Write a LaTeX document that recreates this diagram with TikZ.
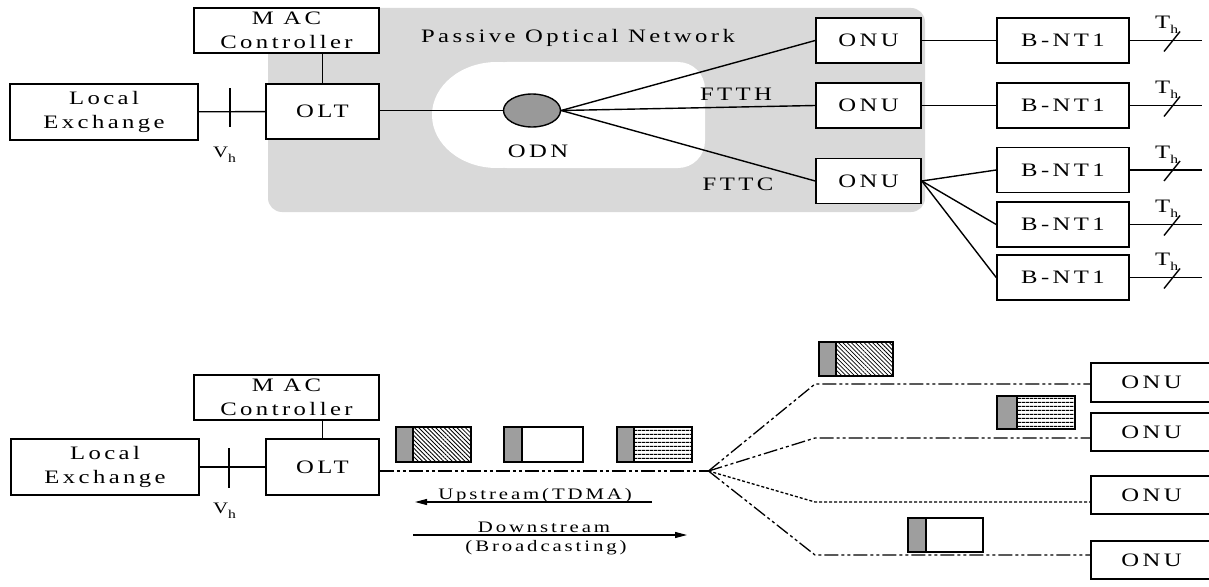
\documentclass[tikz,border=0pt]{standalone}
\usepackage{fontspec}
\setmainfont{Liberation Serif}
\newfontfamily\ponfont[FakeStretch=1.3,LetterSpace=18]{Liberation Serif}
\usetikzlibrary{shapes.geometric,arrows.meta,patterns.meta}

\newcommand\bigtxt{\ponfont\fontsize{19}{23.5}\selectfont}
\newcommand\midtxt{\ponfont\fontsize{16}{19}\selectfont}
\newcommand\subtxt{\ponfont\fontsize{12}{12}\selectfont}

% a frame: stippled header, body, outline
\newcommand\pkt[6]{%
  \fill[black!38] (#1,#4) rectangle (#2,#5);
  \path[#6] (#2,#4) rectangle (#3,#5);
  \draw[pktline] (#1,#4) rectangle (#3,#5) (#2,#4) -- (#2,#5);
}

\begin{document}
\begin{tikzpicture}[x=1pt,y=-1pt,
  box/.style={draw,line width=1.6pt,fill=white,inner sep=0pt,align=center,font=\bigtxt},
  wire/.style={line width=1.4pt},
  fibre/.style={line width=1.3pt,dash pattern=on 14pt off 3pt on 3pt off 3pt on 3pt off 3pt},
  dotfibre/.style={line width=1.3pt,dash pattern=on 3pt off 2pt},
  pktline/.style={line width=1.5pt},
  hatch/.style={pattern={Lines[angle=-45,distance=3pt,line width=0.8pt]}},
  hlines/.style={pattern={Lines[angle=0,distance=4pt,line width=1.2pt]}},
  txt/.style={font=\bigtxt,inner sep=0pt},
  small/.style={font=\midtxt,inner sep=0pt},
  flow/.style={line width=1.2pt,-{Triangle[length=12pt,width=6pt]}},
]
\useasboundingbox (0,0) rectangle (1209,586);
\clip (0,0) rectangle (1209,586);

% ---------- upper part: PON architecture ----------
\fill[black!15, rounded corners=14pt] (268,8) rectangle (925,212);
\fill[white] (497,115) ellipse [x radius=65, y radius=53];
\fill[white, rounded corners=27pt] (480,62) rectangle (705,168);

\node[txt,anchor=base] (pon) at (578,43) {Passive Optical Network};

\node[box,minimum width=185,minimum height=45] (mac1) at (286.5,30.5) {M AC\\Controller};
\node[box,minimum width=188,minimum height=56] (le1) at (104,112) {Local\\Exchange};
\node[box,minimum width=113,minimum height=55] (olt1) at (322.5,111.5) {OLT};
\node[draw,ellipse,fill=black!40,line width=1.4pt,minimum width=57,minimum height=33,inner sep=0pt] (odn) at (532,110.5) {};
\node[txt,anchor=base] (odnlab) at (538,157) {ODN};

\draw[wire] (le1) -- (olt1);
\draw[wire] (230,88) -- (230,127);
\node[anchor=base west,inner sep=0pt,font=\midtxt] (vb1) at (213,157) {V\raisebox{-5pt}{\subtxt h}};
\draw[wire] (olt1.north) -- (olt1.north |- mac1.south);
\draw[wire] (odn.west) -- (odn.west -| olt1.east);

\foreach \k/\y in {1/40.5,2/105.5,3/181}
  \node[box,minimum width=105,minimum height=45] (onu\k) at (868.5,\y) {ONU};
\node[txt,anchor=base] (ftth) at (736,100) {FTTH};
\node[txt,anchor=base] (fttc) at (738,190) {FTTC};

\foreach \k in {1,2,3}
  \draw[wire] (odn.east) -- (onu\k.west);

\foreach \k/\y in {1/40.5,2/105.5,3/170,4/224.5,5/277.5}{
  \node[box,minimum width=132,minimum height=45] (bnt\k) at (1063,\y) {B-NT1};
  \coordinate (tend\k) at (1202,\y);
  \draw[wire] (bnt\k.east) -- (tend\k);
  \draw[wire] (1164,\y+11) -- (1180,\y-9);
  \node[txt,anchor=base west] (tb\k) at (1155,\y-12) {T\raisebox{-5pt}{\subtxt h}};
}
\draw[wire] (onu1) -- (bnt1);
\draw[wire] (onu2) -- (bnt2);
\foreach \k in {3,4,5}
  \draw[wire] (onu3.east) -- (bnt\k.west);

% ---------- lower part: up/downstream transmission ----------
\node[box,minimum width=185,minimum height=45] (mac2) at (286.5,397.5) {M AC\\Controller};
\node[box,minimum width=188,minimum height=56] (le2) at (105,467) {Local\\Exchange};
\node[box,minimum width=113,minimum height=56] (olt2) at (322.5,467) {OLT};

\draw[wire] (le2) -- (olt2);
\draw[wire] (229,448) -- (229,488);
\node[anchor=base west,inner sep=0pt,font=\midtxt] (vb2) at (213,513) {V\raisebox{-5pt}{\subtxt h}};
\draw[wire] (olt2.north) -- (olt2.north |- mac2.south);

\coordinate (split) at (708.5,471);
\draw[fibre] (split -| olt2.east) -- (split);

\node[box,minimum width=121,minimum height=39] (onub1) at (1151.5,382.5) {ONU};
\node[box,minimum width=121,minimum height=38] (onub2) at (1151.5,432) {ONU};
\node[box,minimum width=121,minimum height=38] (onub3) at (1151.5,495) {ONU};
\node[box,minimum width=121,minimum height=38] (onub4) at (1151.5,560) {ONU};

\coordinate (bend1) at (815,384);
\coordinate (bend2) at (815,438);
\coordinate (bend3) at (815,502);
\coordinate (bend4) at (815,555);
\draw[fibre] (split) -- (bend1) -- (bend1 -| onub1.west);
\draw[fibre] (split) -- (bend2) -- (bend2 -| onub2.west);
\draw[dotfibre] (split) -- (bend3) -- (bend3 -| onub3.west);
\draw[fibre] (split) -- (bend4) -- (bend4 -| onub4.west);

% frames on the shared fibre and on the drops
\pkt{396}{413}{471}{427}{462}{hatch}
\pkt{504}{522}{583}{427}{462}{fill=white}
\pkt{617}{634}{692}{427}{462}{hlines}
\pkt{819}{836}{893}{342}{376}{hatch}
\pkt{997}{1017}{1075}{396}{429}{hlines}
\pkt{908}{926}{983}{518}{552}{fill=white}

\coordinate (upR) at (652,502);
\coordinate (upL) at (415,502);
\draw[flow] (upR) -- (upL);
\coordinate (dnL) at (413,535);
\coordinate (dnR) at (687,535);
\draw[flow] (dnL) -- (dnR);
\node[small,anchor=base] (uplab) at (535,499) {Upstream(TDMA)};
\node[small,anchor=base] (dnlab) at (544,532) {Downstream};
\node[small,anchor=base] (bclab) at (546,551) {(Broadcasting)};
\end{tikzpicture}
\end{document}
